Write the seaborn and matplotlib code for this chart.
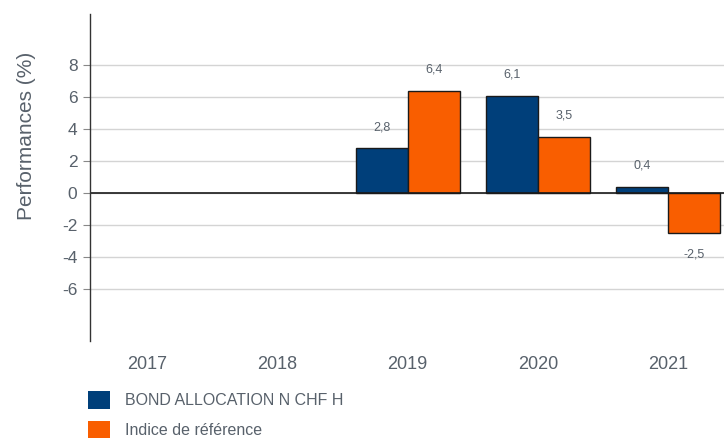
import numpy as np
import pandas as pd
import seaborn as sns
import matplotlib.pyplot as plt
from matplotlib.patches import Patch

years = ["2017", "2018", "2019", "2020", "2021"]
fonds = [np.nan, np.nan, 2.8, 6.1, 0.4]
indice = [np.nan, np.nan, 6.4, 3.5, -2.5]
series_names = ["BOND ALLOCATION N CHF H", "Indice de référence"]
colors = ["#003f7a", "#f95e00"]

df = pd.DataFrame({
    "annee": years * 2,
    "serie": [series_names[0]] * len(years) + [series_names[1]] * len(years),
    "perf": fonds + indice,
})

sns.set_style("white")
plt.rcParams["font.family"] = ["Liberation Sans", "DejaVu Sans"]
grey = "#58616b"

fig = plt.figure(figsize=(7.24, 4.38), dpi=100)
ax = fig.add_axes([0.1243, 0.2215, 0.8757, 0.7465])

sns.barplot(data=df.dropna(), x="annee", y="perf", hue="serie", order=years,
            hue_order=series_names, palette=colors, saturation=1, width=0.8,
            edgecolor="#1a1a1a", linewidth=1, ax=ax, legend=False)

# étiquettes de valeurs
for cont, vals in zip(ax.containers, [fonds, indice]):
    labs = [f"{v:.1f}".replace(".", ",") for v in vals if not np.isnan(v)]
    ax.bar_label(cont, labels=labs, padding=11, fontsize=9, color=grey)

ax.set_xlim(-0.44, 4.43)
ax.set_ylim(-9.25, 11.2)
ax.set_yticks([-6, -4, -2, 0, 2, 4, 6, 8])
ax.set_yticklabels(["-6", "-4", "-2", "0", "2", "4", "6", "8"])
ax.yaxis.grid(True, color="#d4d4d4", linewidth=1)
ax.set_axisbelow(True)
ax.axhline(0, color="#1a1a1a", linewidth=1.2, zorder=1.5)

for s in ["top", "right", "bottom"]:
    ax.spines[s].set_visible(False)
ax.spines["left"].set_color("#333333")
ax.spines["left"].set_linewidth(1)

ax.tick_params(axis="y", left=True, length=5, color="#888888", labelsize=12.5, labelcolor=grey, pad=4)
ax.tick_params(axis="x", bottom=False, labelsize=13, labelcolor=grey, pad=7)
ax.set_xlabel("")
ax.set_ylabel("Performances (%)", fontsize=15, color=grey)
ax.yaxis.set_label_coords(-0.085, 0.627)

handles = [Patch(facecolor=c, edgecolor="none") for c in colors]
fig.legend(handles, series_names, loc="upper left", bbox_to_anchor=(0.1215, 1 - 391 / 438),
           frameon=False, fontsize=11.5, labelcolor=grey, handlelength=1.4,
           handleheight=1.35, labelspacing=0.75, handletextpad=0.9,
           borderaxespad=0, borderpad=0)

fig.savefig("out.png", dpi=100)
